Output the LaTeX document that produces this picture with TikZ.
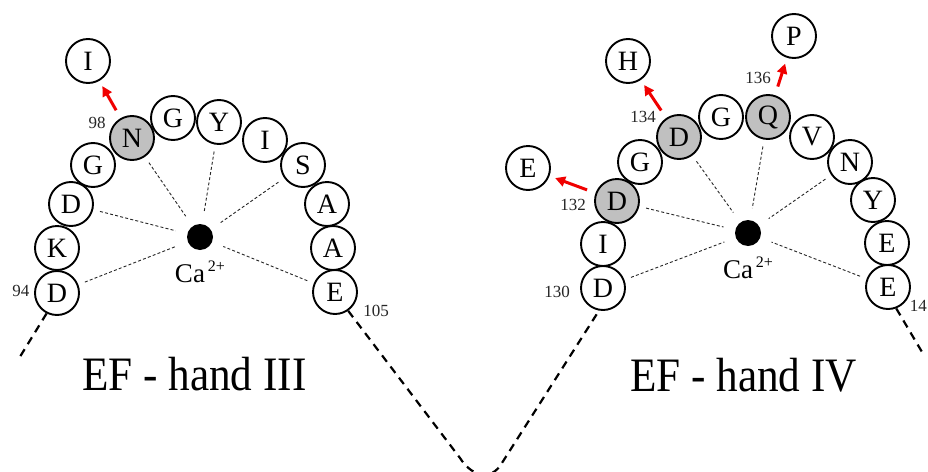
\documentclass[tikz,border=0pt]{standalone}
\usepackage{fontspec}
\setmainfont{Liberation Serif}
\usetikzlibrary{arrows.meta}
\definecolor{boundgray}{RGB}{192,192,192}
\definecolor{mutred}{RGB}{240,0,0}

\begin{document}
\begin{tikzpicture}[x=1pt, y=-1pt,
  res/.style={circle, draw, line width=1.9pt, minimum size=44pt, inner sep=0pt,
              fill=white, font=\fontsize{28}{28}\selectfont},
  bound/.style={res, fill=boundgray},
  num/.style={font=\fontsize{17}{17}\selectfont, text=black!85, inner sep=0pt},
  ion/.style={circle, fill=black, minimum size=26pt, inner sep=0pt},
  ionlabel/.style={anchor=base, inner sep=0pt, font=\fontsize{27}{27}\selectfont},
  lig/.style={dash pattern=on 3pt off 2.2pt, line width=0.9pt, black!85,
              shorten <=7pt, shorten >=12pt},
  mut/.style={mutred, line width=3pt, -{Triangle[length=10pt,width=10pt]},
              shorten <=9pt, shorten >=6pt},
  loopline/.style={line width=2.2pt, dash pattern=on 8pt off 6pt},
  title/.style={anchor=base west, inner sep=0pt, font=\fontsize{48}{48}\selectfont}]

\fill[white] (0,0) rectangle (928,471);
\useasboundingbox (0,0) rectangle (928,471);

% ---------- EF-hand III ----------
\node[ion] (lca) at (200,237) {};
\node[ionlabel] (lcal) at (200,282) {Ca\hspace{3pt}\raisebox{11pt}{\fontsize{16}{16}\selectfont 2+}};

\node[res]   (l94) at (57,293)  {D};
\node[res]   (lK)  at (57,248)  {K};
\node[res]   (lD)  at (71,204)  {D};
\node[res]   (lG)  at (93,165)  {G};
\node[bound] (lN)  at (132,138) {N};
\node[res]   (lG2) at (173,118) {G};
\node[res]   (lY)  at (219,122) {Y};
\node[res]   (lI)  at (265,140) {I};
\node[res]   (lS)  at (303,165) {S};
\node[res]   (lA)  at (327,204) {A};
\node[res]   (lA2) at (333,248) {A};
\node[res]   (lE)  at (335,292) {E};
\node[res]   (lmut) at (88,61)  {I};

\foreach \r in {l94,lD,lN,lY,lS,lE} \draw[lig] (\r) -- (lca);
\draw[mut] (lN) -- (lmut);

\node[num] (n94)  at (21,291)  {94};
\node[num] (n98)  at (97,123)  {98};
\node[num] (n105) at (376,311) {105};

\node[title] (t3) at (82,390) {\scalebox{0.9}[1]{EF - hand III}};

% ---------- EF-hand IV ----------
\node[ion] (rca) at (748,233) {};
\node[ionlabel] (rcal) at (748,278) {Ca\hspace{3pt}\raisebox{11pt}{\fontsize{16}{16}\selectfont 2+}};

\node[res]   (r130) at (603,288) {D};
\node[res]   (rI)   at (603,244) {I};
\node[bound] (r132) at (617,201) {D};
\node[res]   (rG)   at (640,162) {G};
\node[bound] (r134) at (679,137) {D};
\node[res]   (rG2)  at (721,117) {G};
\node[bound] (r136) at (768,117) {Q};
\node[res]   (rV)   at (812,137) {V};
\node[res]   (rN)   at (850,162) {N};
\node[res]   (rY)   at (873,200) {Y};
\node[res]   (rE)   at (887,243) {E};
\node[res]   (rE2)  at (888,287) {E};
\node[res]   (rmE)  at (528,168) {E};
\node[res]   (rmH)  at (628,61)  {H};
\node[res]   (rmP)  at (794,36)  {P};

\foreach \r in {r130,r132,r134,r136,rN,rE2} \draw[lig] (\r) -- (rca);
\draw[mut] (r132) -- (rmE);
\draw[mut] (r134) -- (rmH);
\draw[mut] (r136) -- (rmP);

\node[num] (n130) at (557,292) {130};
\node[num] (n132) at (573,205) {132};
\node[num] (n134) at (643,117) {134};
\node[num] (n136) at (758,78)  {136};
\node[num, anchor=east] (n14) at (927,306) {14};

\node[title] (t4) at (630,391) {\scalebox{0.9}[1]{EF - hand IV}};

% ---------- linker loops ----------
\coordinate (tailL) at (18,360);
\coordinate (tailR) at (922,352);
\draw[loopline] (l94.-117) -- (tailL);
\draw[loopline] (rE2.-69) -- (tailR);
\draw[loopline] (lE.-55) -- (460,458)
  .. controls (470,474) and (488,482) .. (500,466) -- (r130.-100);

\end{tikzpicture}
\end{document}
